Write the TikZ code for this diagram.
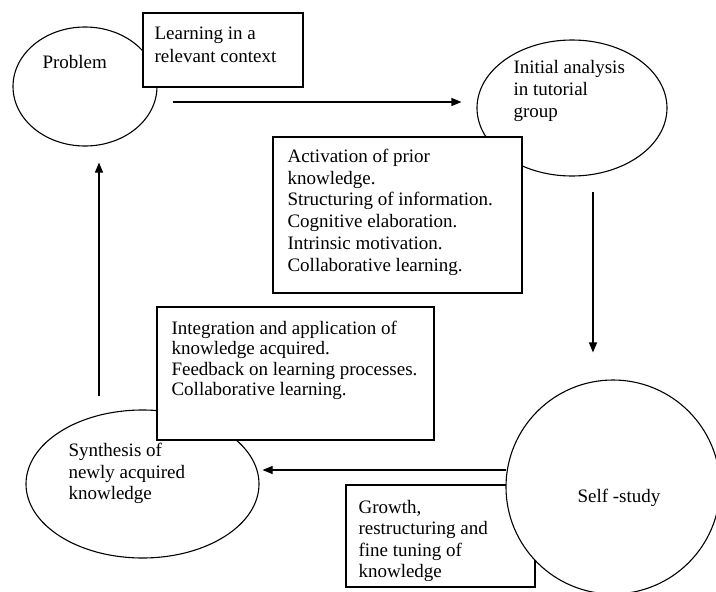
\documentclass[tikz,border=0pt]{standalone}
\usepackage{fontspec}
\setmainfont{Liberation Serif}
\usetikzlibrary{arrows.meta,shapes.geometric,calc}
\begin{document}
\begin{tikzpicture}[x=1pt,y=-1pt,
  line width=1.1pt,
  oval/.style={draw, ellipse, fill=white, inner sep=0pt},
  tbox/.style={draw, fill=white, rectangle, inner sep=0pt},
  txt/.style={anchor=north west, inner sep=0pt, align=left, font=\fontsize{19}{#1}\selectfont},
  arr/.style={-{Triangle[length=10pt,width=8pt]}}]
\useasboundingbox (0,0) rectangle (716,592);
\fill[white] (0,0) rectangle (716,592);
% shapes
\node[oval, minimum width=144pt, minimum height=119pt] (prob) at (85,86.5) {};
\node[tbox, minimum width=160pt, minimum height=74pt] (ctx) at (223,50) {};
\node[oval, minimum width=190pt, minimum height=136pt] (init) at (572,108) {};
\node[tbox, minimum width=249pt, minimum height=156pt] (act) at (397.5,215) {};
\node[oval, minimum width=233pt, minimum height=148pt] (synth) at (142.5,484) {};
\node[tbox, minimum width=277pt, minimum height=133pt] (integ) at (295.5,373.5) {};
\node[tbox, minimum width=189pt, minimum height=102pt] (growth) at (440.5,536) {};
\node[oval, minimum width=214pt, minimum height=214pt] (self) at (613,487) {};
% connectors
\draw[arr] ($(prob.east)+(15,15.5)$) -- ($(init.west)+(-15,-6)$);
\draw[arr] ($(init.south)+(21,15)$) -- ($(self.north)+(-20,-27)$);
\draw[arr] ($(self.west)+(1,-17)$) -- ($(synth.east)+(3,-14)$);
\draw[arr] ($(synth.north)+(-43.5,-13)$) -- ($(prob.south)+(14,16)$);
% texts
\node[txt=21.5] (tprob) at (42,52.95) {\strut Problem};
\node[txt=23] (tctx) at (154,22.9) {\strut Learning in a\\relevant context};
\node[txt=22] (tinit) at (513,57.6) {\strut Initial analysis\\in tutorial\\group};
\node[txt=21.7] (tact) at (287,146.8) {\strut Activation of prior\\knowledge.\\Structuring of information.\\Cognitive elaboration.\\Intrinsic motivation.\\Collaborative learning.};
\node[txt=20.3] (tinteg) at (171,319.8) {\strut Integration and application of\\knowledge acquired.\\Feedback on learning processes.\\Collaborative learning.};
\node[txt=21.5] (tsynth) at (68,441) {\strut Synthesis of\\newly acquired\\knowledge};
\node[txt=21.3] (tgrowth) at (358,498.1) {\strut Growth,\\restructuring and\\fine tuning of\\knowledge};
\node[txt=21.5] (tself) at (577,487) {\strut Self -study};
\end{tikzpicture}
\end{document}
